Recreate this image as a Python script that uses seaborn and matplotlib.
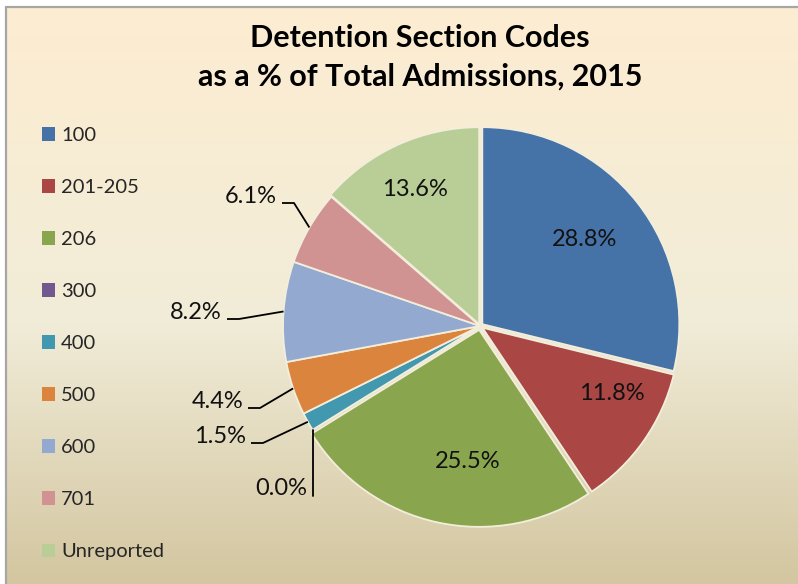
import numpy as np
import matplotlib
matplotlib.use("Agg")
import matplotlib.pyplot as plt
from matplotlib.patches import Patch
from matplotlib.lines import Line2D
from matplotlib.colors import LinearSegmentedColormap
import seaborn as sns

# ---------------- data ----------------
categories = ["100", "201-205", "206", "300", "400", "500", "600", "701", "Unreported"]
percent = [28.8, 11.8, 25.5, 0.0, 1.5, 4.4, 8.2, 6.1, 13.6]
colors = ["#4572A7", "#AA4643", "#89A54E", "#71588F", "#4198AF",
          "#DB843D", "#93A9CF", "#D19392", "#B9CD96"]
title_lines = ["Detention Section Codes", "as a % of Total Admissions, 2015"]

# ---------------- style ----------------
sns.set_theme(style="white")
plt.rcParams['font.family'] = ['Lato', 'DejaVu Sans']
palette = sns.color_palette(colors)

W, H = 798, 584
fig = plt.figure(figsize=(W / 100, H / 100), dpi=100, facecolor='white')

# gradient background panel
bg = fig.add_axes([6 / W, 0, 1 - 6 / W, 1 - 7 / H], zorder=0)
cmap = LinearSegmentedColormap.from_list(
    'bg', [(0.0, '#FDEDD1'), (0.55, '#F1ECD8'), (1.0, '#D3C6A0')])
bg.imshow(np.linspace(0, 1, 256).reshape(-1, 1), aspect='auto', cmap=cmap,
          extent=[0, 1, 0, 1], origin='upper')
bg.axis('off')
fig.add_artist(Line2D([6 / W, 1], [1 - 7 / H, 1 - 7 / H], transform=fig.transFigure,
                      color='#A6A6A6', lw=1.6, zorder=5))
fig.add_artist(Line2D([6 / W, 6 / W], [0, 1 - 7 / H], transform=fig.transFigure,
                      color='#A6A6A6', lw=1.6, zorder=5))

# pie axes covering the full figure, 1 unit = R pixels
CX, CY, R = 480, 326, 197
ax = fig.add_axes([0, 0, 1, 1], zorder=1)
ax.patch.set_alpha(0)


def P(x, y):
    return ((x - CX) / R, (CY - y) / R)


explode = [0.015, 0.015, 0.02, 0, 0, 0, 0, 0, 0.01]
wedges, _ = ax.pie(percent, colors=palette, startangle=90, counterclock=False,
                   radius=1, explode=explode,
                   wedgeprops=dict(edgecolor='#F3EEDC', linewidth=1.3))
ax.set_xlim(-CX / R, (W - CX) / R)
ax.set_ylim((CY - H) / R, CY / R)
ax.set_aspect('auto')
ax.axis('off')

# label placement (text anchor positions in pixels)
inside_px = {"100": (585, 240), "201-205": (612, 393), "206": (468, 462),
             "Unreported": (415, 190)}
outside_px = {"701": (277, 203), "600": (222, 319), "500": (243, 408),
              "400": (246, 443)}
vertical_px = {"300": 495}
LFS = 17

for cat, val, w in zip(categories, percent, wedges):
    lab = f"{val:.1f}%"
    mid = np.deg2rad((w.theta1 + w.theta2) / 2)
    ex, ey = w.center
    px_, py_ = ex + np.cos(mid), ey + np.sin(mid)
    if cat in inside_px:
        x, y = P(*inside_px[cat])
        ax.text(x, y, lab, ha='center', va='center', fontsize=LFS, color='#111111')
    elif cat in outside_px:
        tx, ty = outside_px[cat]
        a = P(tx + 5, ty)
        b = P(tx + 17, ty)
        ax.plot([a[0], b[0], px_], [a[1], b[1], py_], color='black', lw=1.3,
                solid_capstyle='butt')
        x, y = P(tx, ty)
        ax.text(x, y, lab, ha='right', va='baseline', fontsize=LFS, color='#111111')
    elif cat in vertical_px:
        ty = vertical_px[cat]
        yb = P(0, ty + 1)[1]
        ax.plot([px_, px_], [py_, yb], color='black', lw=1.3)
        ax.text(px_ - 5 / R, P(0, ty)[1], lab, ha='right', va='baseline',
                fontsize=LFS, color='#111111')

# title
fig.text(420 / W, 1 - 47 / H, title_lines[0], ha='center', va='baseline',
         fontsize=22, fontweight='bold', color='black')
fig.text(420 / W, 1 - 86 / H, title_lines[1], ha='center', va='baseline',
         fontsize=22, fontweight='bold', color='black')

# legend
handles = [Patch(facecolor=c, edgecolor='none') for c in palette]
fig.legend(handles, categories, loc='upper left', bbox_to_anchor=(42 / W, 1 - 127 / H),
           frameon=False, fontsize=14.5, handlelength=0.65, handleheight=0.65,
           handletextpad=0.3, labelspacing=1.74, borderpad=0, borderaxespad=0)

fig.savefig("out.png", dpi=100, facecolor='white')
